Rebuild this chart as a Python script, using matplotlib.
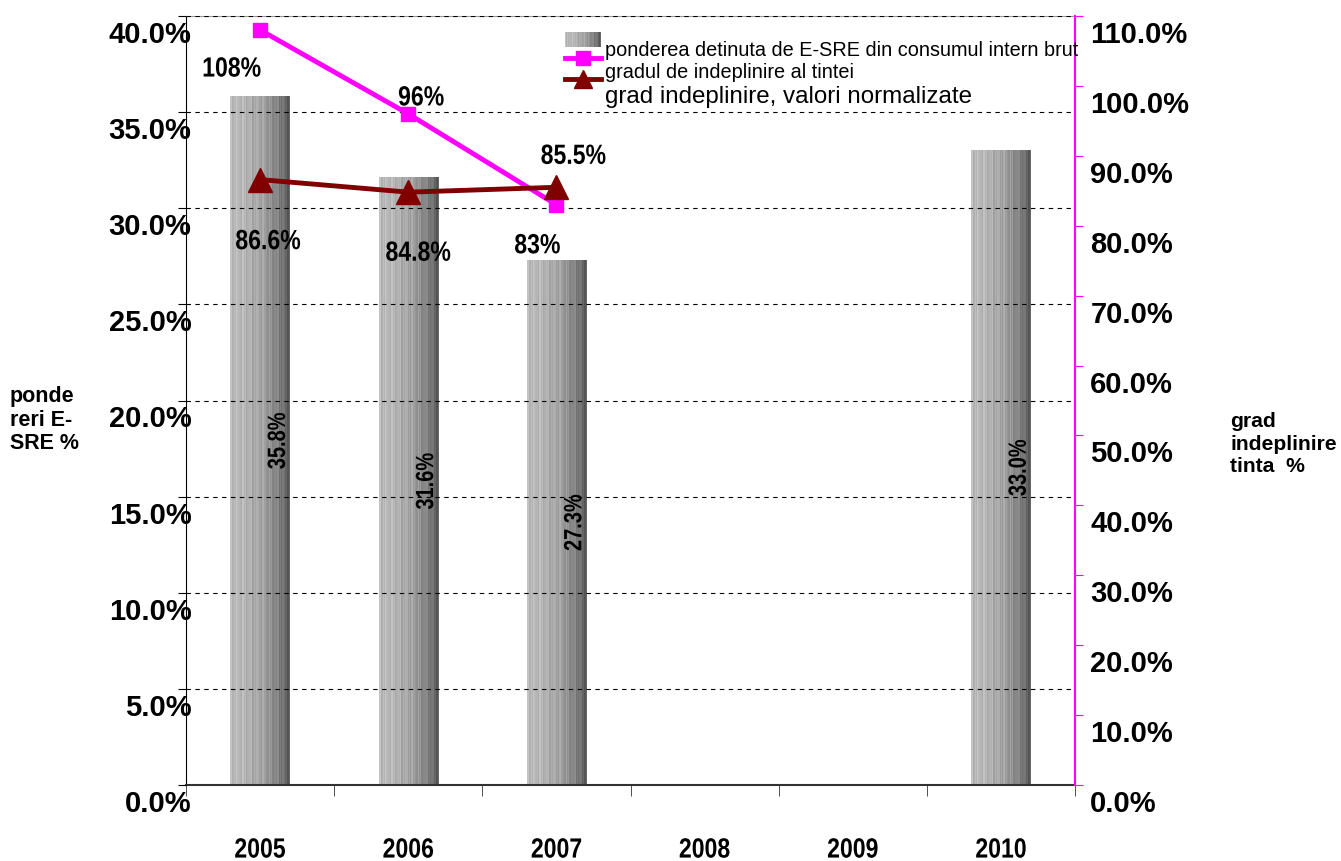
import numpy as np
import matplotlib
matplotlib.use('Agg')
import matplotlib.pyplot as plt
from matplotlib.transforms import ScaledTranslation, Affine2D
from matplotlib.lines import Line2D
from matplotlib.textpath import TextPath
from matplotlib.patches import PathPatch
from matplotlib.font_manager import FontProperties

# date
years = ['2005', '2006', '2007', '2008', '2009', '2010']
bar_years = ['2005', '2006', '2007', '2010']
pondere = [35.8, 31.6, 27.3, 33.0]           # % pondere E-SRE
line_years = ['2005', '2006', '2007']
grad_tinta = [108.0, 96.0, 83.0]             # linie magenta
grad_norm = [86.6, 84.8, 85.5]               # linie visiniu
lbl_tinta = ['108%', '96%', '83%']
lbl_norm = ['86.6%', '84.8%', '85.5%']

W, H = 1341, 861
fig = plt.figure(figsize=(W / 100, H / 100), dpi=100)
plt.rcParams['font.family'] = ['Liberation Sans', 'DejaVu Sans']
BOLD = FontProperties(family='Liberation Sans', weight='bold')


def narrow(axx, x, y, s, size, base, rot=0, dx=0, dy=0, sx=0.83, z=6, clip=True):
    """text ingust (tip Arial Narrow) desenat ca path, centrat pe (x, y)"""
    tp = TextPath((0, 0), s, size=size, prop=BOLD)
    bb = tp.get_extents()
    tr = (Affine2D().translate(-(bb.x0 + bb.x1) / 2, -(bb.y0 + bb.y1) / 2)
          .scale(sx, 1).rotate_deg(rot).scale(fig.dpi / 72).translate(dx, -dy))
    p = PathPatch(tp, transform=tr + ScaledTranslation(x, y, base),
                  facecolor='black', edgecolor='none', lw=0, zorder=z)
    p.set_clip_on(clip)
    axx.add_artist(p)


L, R, T, B = 186, 1075, 16, 785
ax = fig.add_axes([L / W, 1 - B / H, (R - L) / W, (B - T) / H])
ax2 = ax.twinx()

xpos = {y: i for i, y in enumerate(years)}

# textura bare: dungi verticale, deschis -> inchis
n = 48
t = np.linspace(0, 1, n)
shade = 0.74 - 0.12 * t - 0.26 * t ** 3
shade = shade + 0.035 * np.sin(np.arange(n) * 2.7) + 0.025 * np.cos(np.arange(n) * 5.1)
tex = np.clip(shade, 0, 1)[None, :].repeat(2, axis=0)

bw = 0.4
for yr, v in zip(bar_years, pondere):
    x = xpos[yr]
    ax.imshow(tex, cmap='gray', vmin=0, vmax=1, aspect='auto',
              extent=(x - bw / 2, x + bw / 2, 0, v), zorder=1, interpolation='nearest')
    narrow(ax, x + 0.11, v / 2, f'{v:.1f}%', 18, ax.transData, rot=90, sx=0.8, z=3)

ax.set_xlim(-0.5, 5.5)
ax.set_ylim(0, 40)
ax2.set_ylim(0, 110)

ax.set_yticks(np.arange(0, 41, 5))
ax.set_yticklabels([f'{v:.1f}%' for v in np.arange(0, 41, 5)])
ax2.set_yticks(np.arange(0, 111, 10))
ax2.set_yticklabels([f'{v:.1f}%' for v in np.arange(0, 111, 10)])

ax.yaxis.grid(True, linestyle=(0, (4, 4)), color='black', linewidth=0.8, zorder=2)
ax.set_axisbelow(False)
ax.tick_params(axis='y', direction='out', length=6, pad=-10, labelsize=21)
for lb in ax.get_yticklabels():
    lb.set_fontweight('bold')
    lb.set_transform(lb.get_transform() + ScaledTranslation(0, -0.16, fig.dpi_scale_trans))
ax2.tick_params(axis='y', direction='out', length=6, pad=5, labelsize=21, color='#ff00ff')
for lb in ax2.get_yticklabels():
    lb.set_fontweight('bold')
    lb.set_transform(lb.get_transform() + ScaledTranslation(0, -0.16, fig.dpi_scale_trans))

# ani pe axa x
ax.set_xticks(range(len(years)))
ax.set_xticklabels([])
ax.tick_params(axis='x', which='major', length=0)
ax.set_xticks(np.arange(-0.5, 6, 1), minor=True)
ax.tick_params(axis='x', which='minor', length=8, direction='out', color='#333333')
for yr in years:
    narrow(ax, xpos[yr], 0, yr, 20, ax.get_xaxis_transform(), dy=63, clip=False)

ax.spines['right'].set_visible(False)
ax.spines['top'].set_color('#999999')
ax.spines['left'].set_color('black')
ax.spines['bottom'].set_color('#333333')
ax.spines['bottom'].set_linewidth(1.5)
for s in ['left', 'top', 'bottom']:
    ax2.spines[s].set_visible(False)
ax2.spines['right'].set_color('#ff00ff')
ax2.spines['right'].set_linewidth(1.5)

xl = [xpos[y] for y in line_years]
ax2.plot(xl, grad_tinta, color='#ff00ff', lw=3.5, marker='s', ms=10, zorder=4)
ax2.plot(xl, grad_norm, color='#800000', lw=3.5, marker='^', ms=17, zorder=5)

offs_t = [(-28, -37), (13, 18), (-19, -39)]
offs_n = [(8, -60), (10, -59), (17, 33)]
for x, v, s, o in zip(xl, grad_tinta, lbl_tinta, offs_t):
    narrow(ax2, x, v, s, 20, ax2.transData, dx=o[0], dy=-o[1], clip=False)
for x, v, s, o in zip(xl, grad_norm, lbl_norm, offs_n):
    narrow(ax2, x, v, s, 20, ax2.transData, dx=o[0], dy=-o[1], clip=False)

# titluri axe
fig.text(10 / W, 1 - 420 / H, 'ponde\nreri E-\nSRE %', ha='left', va='center',
         fontsize=15.5, fontweight='bold', linespacing=1.18)
fig.text(1230 / W, 1 - 444 / H, 'grad\nindeplinire\ntinta  %', ha='left', va='center',
         fontsize=15.2, fontweight='bold', linespacing=1.22)

# legenda (desenata manual)
sw = fig.add_axes([565 / W, 1 - 47 / H, 36 / W, 15 / H])
sw.imshow(tex, cmap='gray', vmin=0, vmax=1, aspect='auto', interpolation='nearest')
sw.axis('off')
for yy, col, mk, ms in [(58, '#ff00ff', 's', 10), (79, '#800000', '^', 13)]:
    fig.add_artist(Line2D([565 / W, 601 / W], [1 - yy / H] * 2, transform=fig.transFigure,
                          color=col, lw=3.5))
    fig.add_artist(Line2D([583 / W], [1 - yy / H], transform=fig.transFigure,
                          color=col, marker=mk, ms=ms, lw=0))
fig.text(605 / W, 1 - 51 / H, 'ponderea detinuta de E-SRE din consumul intern brut',
         ha='left', va='center', fontsize=14.3)
fig.text(605 / W, 1 - 73 / H, 'gradul de indeplinire al tintei',
         ha='left', va='center', fontsize=14.3)
fig.text(605 / W, 1 - 97 / H, 'grad indeplinire, valori normalizate',
         ha='left', va='center', fontsize=17.4)

fig.savefig('out.png', dpi=100)
